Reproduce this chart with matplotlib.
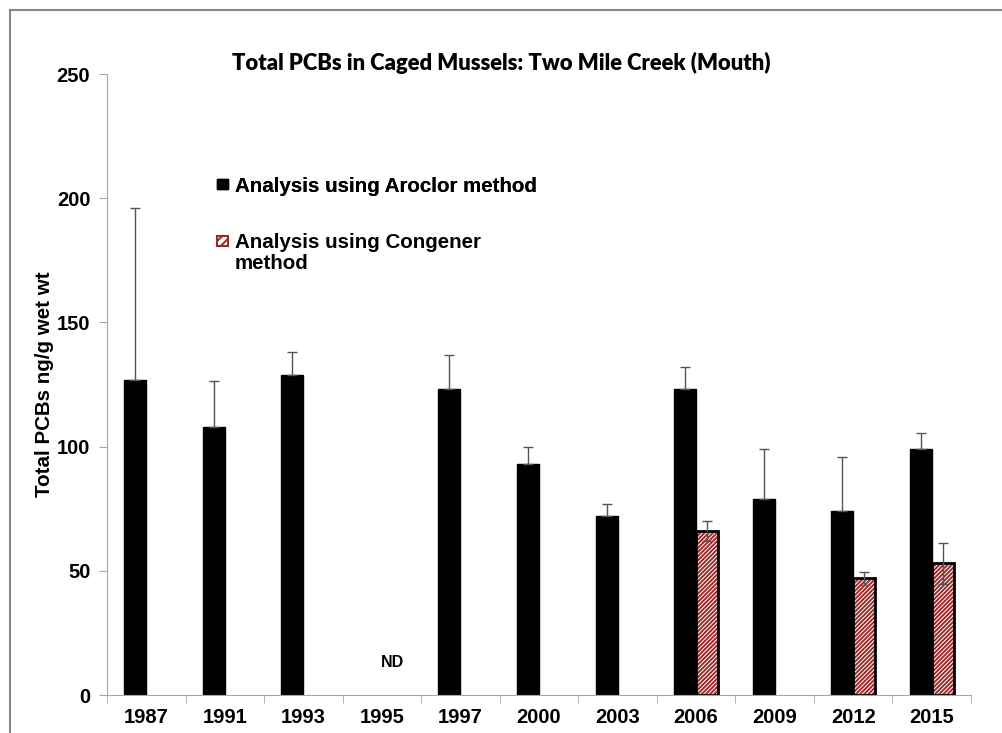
import numpy as np
import matplotlib.pyplot as plt
from matplotlib.patches import Patch
from matplotlib.lines import Line2D

# Data
years = ['1987', '1991', '1993', '1995', '1997', '2000', '2003', '2006', '2009', '2012', '2015']
aroclor = [127, 108, 129, 0, 123, 93, 72, 123, 79, 74, 99]
aroclor_err = [69, 18.5, 9, 0, 14, 7, 5, 9, 20, 22, 6.5]
congener = [0, 0, 0, 0, 0, 0, 0, 66, 0, 47, 53]
congener_err = [0, 0, 0, 0, 0, 0, 0, 4, 0, 2.7, 8.3]
nd_year = '1995'
nd_label = 'ND'

hatch_red = '#9b2a2a'
err_grey = '#555555'
axis_grey = '#a6a6a6'
fnt = 'Liberation Sans'

plt.rcParams['hatch.linewidth'] = 1.4

fig = plt.figure(figsize=(10.02, 7.33), dpi=100)
ax = fig.add_axes([0.1068, 0.0518, 0.8622, 0.8472])

x = np.arange(len(years))
w = 0.28

# Aroclor bars (skip the non-detect), error bars pointing up only
ai = [i for i, v in enumerate(aroclor) if v > 0]
axx = x[ai] - w / 2
av = [aroclor[i] for i in ai]
ae = [aroclor_err[i] for i in ai]
ax.bar(axx, av, w, color='black', edgecolor='black', linewidth=1, zorder=2)
ax.errorbar(axx, av, yerr=[np.zeros(len(ai)), ae], fmt='none',
            ecolor=err_grey, elinewidth=1, capsize=3.5, capthick=1, zorder=3)

# Congener bars (only where measured)
idx = [i for i, v in enumerate(congener) if v > 0]
cx = x[idx] + w / 2
cv = [congener[i] for i in idx]
ce = [congener_err[i] for i in idx]
ax.bar(cx, cv, w, color='white', edgecolor=hatch_red, hatch='////////', linewidth=0, zorder=2)
ax.bar(cx, cv, w, fill=False, edgecolor='black', linewidth=2, zorder=3)
ax.errorbar(cx, cv, yerr=ce, fmt='none', ecolor=err_grey, elinewidth=1,
            capsize=3.5, capthick=1, zorder=4)

# ND marker for 1995
nd_i = years.index(nd_year)
ax.text(nd_i + w / 2, 13.0, nd_label, ha='center', va='center', fontsize=11.5,
        fontweight='bold', family=fnt)

ax.set_xlim(-0.5, len(years) - 0.5)
ax.set_ylim(0, 250)
ax.set_yticks(np.arange(0, 251, 50))
ax.set_xticks(x)
ax.set_xticklabels(years)
ax.set_xticks(np.arange(-0.5, len(years), 1), minor=True)
ax.tick_params(axis='x', which='major', length=0, pad=9)
ax.tick_params(axis='x', which='minor', length=6, color=axis_grey, direction='out')
ax.tick_params(axis='y', length=6, color=axis_grey, pad=6)
for lab in ax.get_xticklabels() + ax.get_yticklabels():
    lab.set_fontweight('bold')
    lab.set_fontsize(14.5)
    lab.set_family(fnt)

for s in ['top', 'right']:
    ax.spines[s].set_visible(False)
ax.spines['left'].set_color(axis_grey)
ax.spines['bottom'].set_color(axis_grey)

ax.set_ylabel('Total PCBs ng/g wet wt', fontsize=14.8, fontweight='bold',
              family=fnt, labelpad=2)

fig.text(0.5, 0.914, 'Total PCBs in Caged Mussels: Two Mile Creek (Mouth)',
         ha='center', va='center', fontsize=15.8, fontweight='heavy', family='Lato')

# legend: handle sits next to the first line of each entry
lprop = {'family': fnt, 'weight': 'bold', 'size': 14.8}
leg1 = fig.legend([Patch(facecolor='black', edgecolor='black')],
                  ['Analysis using Aroclor method'],
                  loc='center left', bbox_to_anchor=(0.217, 1 - 186 / 733),
                  frameon=False, handlelength=0.5, handleheight=0.36, handletextpad=0.35,
                  borderaxespad=0, borderpad=0, prop=lprop)
fig.add_artist(leg1)
fig.legend([Patch(facecolor='white', edgecolor=hatch_red, hatch='////', linewidth=1.5),
            Patch(facecolor='none', edgecolor='none')],
           ['Analysis using Congener', 'method'],
           loc='center left', bbox_to_anchor=(0.217, 1 - 253 / 733),
           frameon=False, handlelength=0.5, handleheight=0.36, handletextpad=0.35,
           labelspacing=0.05, borderaxespad=0, borderpad=0, prop=lprop)

# outer frame of the chart area
fig.add_artist(Line2D([0.01, 1.0], [0.987, 0.987], color='#888888', lw=1.5))
fig.add_artist(Line2D([0.01, 0.01], [0.0, 0.987], color='#888888', lw=1.5))

fig.savefig('out.png', dpi=100)
